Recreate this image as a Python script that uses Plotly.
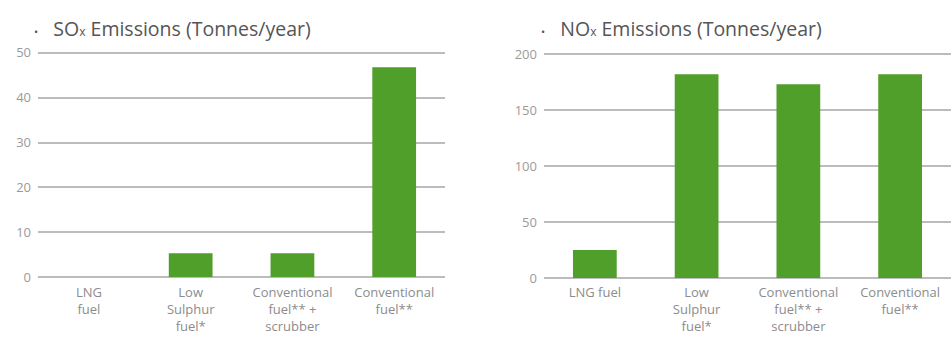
import plotly.graph_objects as go

sox_categories = ["LNG<br>fuel", "Low<br>Sulphur<br>fuel*", "Conventional<br>fuel** +<br>scrubber", "Conventional<br>fuel**"]
sox_values = [0, 5.3, 5.3, 46.8]
sox_ticks = [0, 10, 20, 30, 40, 50]

nox_categories = ["LNG fuel", "Low<br>Sulphur<br>fuel*", "Conventional<br>fuel** +<br>scrubber", "Conventional<br>fuel**"]
nox_values = [25, 182, 173, 182]
nox_ticks = [0, 50, 100, 150, 200]

GREEN = "#4f9f2a"
GRID = "#bcbcbc"
TICK = "#9a9a9a"
FONT = "Open Sans"

fig = go.Figure()
fig.add_trace(go.Bar(x=sox_categories, y=sox_values, marker_color=GREEN,
                     marker_line_width=0, xaxis="x", yaxis="y", showlegend=False))
fig.add_trace(go.Bar(x=nox_categories, y=nox_values, marker_color=GREEN,
                     marker_line_width=0, xaxis="x2", yaxis="y2", showlegend=False))

common_x = dict(showgrid=False, zeroline=False, showline=False, ticks="",
                tickfont=dict(family=FONT, size=13, color="#8c8c8c"), tickangle=0,
                ticklabelstandoff=2)
common_y = dict(showgrid=True, gridcolor=GRID, gridwidth=1.5, zeroline=True,
                zerolinecolor=GRID, zerolinewidth=1.5,
                showline=False, ticks="", tickfont=dict(family=FONT, size=13, color=TICK),
                ticklabelstandoff=6)

TOP, BOT = 48, 62

fig.update_layout(
    width=951, height=343,
    margin=dict(l=0, r=0, t=TOP, b=BOT),
    paper_bgcolor="white", plot_bgcolor="white",
    bargap=0.57,
    xaxis=dict(domain=[0.040, 0.468], anchor="y", **common_x),
    yaxis=dict(range=[-0.89, 51.1], tickvals=sox_ticks, anchor="x", **common_y),
    xaxis2=dict(domain=[0.572, 1.0], anchor="y2", **common_x),
    yaxis2=dict(range=[-2.7, 205.4], tickvals=nox_ticks, anchor="x2", **common_y),
    annotations=[
        dict(text="<span style='font-size:11px'>•</span>   SO<span style='font-size:12px'>x</span> Emissions (Tonnes/year)",
             x=32, y=28, xref="paper", yref="paper", showarrow=False,
             xanchor="left", yanchor="middle",
             font=dict(family=FONT, size=19.5, color="#555555")),
        dict(text="<span style='font-size:11px'>•</span>   NO<span style='font-size:12px'>x</span> Emissions (Tonnes/year)",
             x=539, y=28, xref="paper", yref="paper", showarrow=False,
             xanchor="left", yanchor="middle",
             font=dict(family=FONT, size=19.5, color="#555555")),
    ],
)

# convert pixel positions of annotations to paper coords
plot_h = 343 - TOP - BOT
for a in fig.layout.annotations:
    px, py = a.x, a.y
    a.x = px / 951
    a.y = (343 - BOT - py) / plot_h

fig.write_html("out.html")
